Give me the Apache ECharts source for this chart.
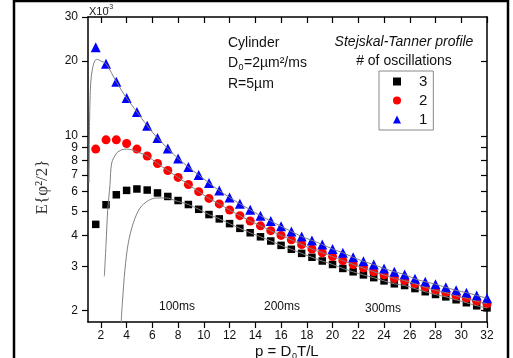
<!DOCTYPE html>
<html><head><meta charset="utf-8">
<script src="https://cdn.jsdelivr.net/npm/echarts@6/dist/echarts.min.js"></script>
<style>html,body{margin:0;padding:0;background:#fff}#c{width:513px;height:358px}</style>
</head><body><div id="c"></div>
<script>
// p = D0 T / L values of the measured points
const pValues = [1.6,2.4,3.2,4.0,4.8,5.6,6.4,7.2,8.0,8.8,9.6,10.4,11.2,12.0,12.8,13.6,14.4,15.2,16.0,16.8,17.6,18.4,19.2,20.0,20.8,21.6,22.4,23.2,24.0,24.8,25.6,26.4,27.2,28.0,28.8,29.6,30.4,31.2,32.0];
// E{phi^2/2} in units of 1e-3
const osc1 = [22.7,19.5,16.5,14.2,12.5,11.0,9.82,8.92,8.13,7.52,6.98,6.49,6.05,5.68,5.36,5.07,4.80,4.57,4.35,4.15,3.96,3.82,3.68,3.53,3.41,3.27,3.15,3.06,2.95,2.86,2.79,2.68,2.61,2.55,2.48,2.41,2.36,2.30,2.24];
const osc2 = [8.87,9.66,9.66,9.34,8.87,8.32,7.77,7.28,6.83,6.40,5.99,5.63,5.35,5.06,4.80,4.57,4.37,4.18,4.00,3.84,3.68,3.53,3.41,3.29,3.17,3.06,2.96,2.86,2.78,2.69,2.64,2.56,2.48,2.41,2.36,2.29,2.24,2.18,2.13];
const osc3 = [4.43,5.31,5.82,6.06,6.14,6.08,5.92,5.73,5.52,5.32,5.09,4.85,4.66,4.46,4.27,4.10,3.95,3.80,3.65,3.52,3.39,3.27,3.16,3.06,2.95,2.86,2.78,2.71,2.63,2.56,2.52,2.45,2.38,2.32,2.27,2.21,2.15,2.09,2.05];
const fit1HeadX = [1.08,1.12,1.16,1.21,1.33,1.52,1.72,1.99];
const fit1HeadY = [6.5,11.3,14.0,16.3,18.4,20.0,20.3,20.0];
const fit2HeadX = [2.27,2.40,2.53,2.71,2.84,3.23,3.62,4.01,4.40,4.78];
const fit2HeadY = [2.74,3.68,5.03,6.40,7.80,8.55,8.81,8.87,8.81,8.67];
const fit3HeadX = [3.55,3.67,3.87,4.13,4.52,5.04,5.69,6.34,7.12,7.76];
const fit3HeadY = [1.7,2.15,2.92,3.73,4.49,5.15,5.52,5.65,5.65,5.52];
const xTicks = [2,4,6,8,10,12,14,16,18,20,22,24,26,28,30,32];
const yTicks = [2,3,4,5,6,7,8,9,10,20,30];
const yTicksRight = [2,3,4,5,6,7,8,9,10,20];
const legendNames = ['3','2','1'];

const zip = (xs, ys) => xs.map((x, i) => [x, ys[i]]);
const fit1 = zip(fit1HeadX, fit1HeadY).concat(zip(pValues, osc1).slice(1));
const fit2 = zip(fit2HeadX, fit2HeadY).concat(zip(pValues, osc2).slice(5));
const fit3 = zip(fit3HeadX, fit3HeadY).concat(zip(pValues, osc3).slice(9));

const FONT = '"Liberation Sans", Arial, sans-serif';
const axisLine = {show: true, lineStyle: {color: '#000', width: 1.5}};
const chart = echarts.init(document.getElementById('c'), null, {renderer: 'canvas'});
const lineStyle = {color: '#808080', width: 1};
chart.setOption({
  animation: false,
  backgroundColor: '#fff',
  grid: {left: 88, right: 26, top: 17, bottom: 36},
  xAxis: [
    {type: 'value', min: 1, max: 32, position: 'bottom', axisLine,
     splitLine: {show: false},
     axisTick: {show: true, length: 6, inside: false, customValues: xTicks, lineStyle: {color: '#000', width: 1.2}},
     axisLabel: {customValues: xTicks, margin: 8, fontSize: 12, color: '#111', fontFamily: FONT}},
    {type: 'value', min: 1, max: 32, position: 'top', axisLine,
     splitLine: {show: false},
     axisTick: {show: true, length: 6, inside: true, customValues: xTicks, lineStyle: {color: '#000', width: 1.2}},
     axisLabel: {show: false}}
  ],
  yAxis: [
    {type: 'log', logBase: 10, min: 1.8, max: 30, position: 'left', axisLine,
     splitLine: {show: false}, minorTick: {show: false},
     axisTick: {show: true, length: 6, inside: false, customValues: yTicks, lineStyle: {color: '#000', width: 1.2}},
     axisLabel: {customValues: yTicks, margin: 10, fontSize: 12, color: '#111', fontFamily: FONT,
                 formatter: v => String(Math.round(v))}},
    {type: 'log', logBase: 10, min: 1.8, max: 30, position: 'right', axisLine,
     splitLine: {show: false}, minorTick: {show: false},
     axisTick: {show: true, length: 6, inside: true, customValues: yTicksRight, lineStyle: {color: '#000', width: 1.2}},
     axisLabel: {show: false}}
  ],
  legend: {
    data: legendNames, orient: 'vertical', left: 379, top: 71,
    padding: [3, 6, 3, 14], itemWidth: 8, itemHeight: 8, itemGap: 4,
    borderColor: '#888', borderWidth: 1, borderRadius: 0,
    itemStyle: {opacity: 1},
    textStyle: {fontSize: 15, lineHeight: 15, color: '#111', fontFamily: FONT, padding: [0, 0, 0, 13]},
    selectedMode: false
  },
  series: [
    {name: '3', type: 'scatter', symbol: 'rect', symbolSize: 7.5, itemStyle: {color: '#000', opacity: 1}, data: zip(pValues, osc3), z: 2},
    {name: '2', type: 'scatter', symbol: 'circle', symbolSize: 9, itemStyle: {color: '#ff0000', opacity: 1}, data: zip(pValues, osc2), z: 2},
    {name: '1', type: 'scatter', symbol: 'triangle', symbolSize: 10, itemStyle: {color: '#0000ff', opacity: 1}, data: zip(pValues, osc1), z: 2},
    {name: 'fit1', type: 'line', showSymbol: false, smooth: 0.3, lineStyle, data: fit1, z: 3, clip: true},
    {name: 'fit2', type: 'line', showSymbol: false, smooth: 0.3, lineStyle, data: fit2, z: 3, clip: true},
    {name: 'fit3', type: 'line', showSymbol: false, smooth: 0.3, lineStyle, data: fit3, z: 3, clip: true}
  ],
  graphic: [
    {type: 'rect', silent: true, shape: {x: 14, y: 1, width: 494, height: 420}, style: {fill: 'none', stroke: '#000', lineWidth: 2.5}},
    {type: 'text', x: 89, y: 6, style: {text: 'X10', font: '11px ' + FONT, fill: '#222'}},
    {type: 'text', x: 107, y: 4, style: {text: '-3', font: '7px ' + FONT, fill: '#222'}},
    {type: 'text', x: 43, y: 187, rotation: Math.PI / 2,
     style: {text: 'E{φ²/2}', font: '17px "Liberation Serif", serif', fill: '#333', align: 'center', verticalAlign: 'middle'}},
    {type: 'text', x: 228, y: 43, style: {text: 'Cylinder', font: '14px ' + FONT, fill: '#111', verticalAlign: 'middle'}},
    {type: 'text', x: 228, y: 63, style: {text: 'D', font: '14px ' + FONT, fill: '#111', verticalAlign: 'middle'}},
    {type: 'text', x: 238.5, y: 68, style: {text: '0', font: '9px ' + FONT, fill: '#111', verticalAlign: 'middle'}},
    {type: 'text', x: 244, y: 63, style: {text: '=2µm²/ms', font: '14px ' + FONT, fill: '#111', verticalAlign: 'middle'}},
    {type: 'text', x: 228, y: 84, style: {text: 'R=5µm', font: '14px ' + FONT, fill: '#111', verticalAlign: 'middle'}},
    {type: 'text', x: 404, y: 42, style: {text: 'Stejskal-Tanner profile', font: 'italic 14px ' + FONT, fill: '#111', align: 'center', verticalAlign: 'middle'}},
    {type: 'text', x: 404, y: 61, style: {text: '# of oscillations', font: '14px ' + FONT, fill: '#111', align: 'center', verticalAlign: 'middle'}},
    {type: 'text', x: 177, y: 307, style: {text: '100ms', font: '12px ' + FONT, fill: '#111', align: 'center', verticalAlign: 'middle'}},
    {type: 'text', x: 282, y: 307, style: {text: '200ms', font: '12px ' + FONT, fill: '#111', align: 'center', verticalAlign: 'middle'}},
    {type: 'text', x: 383, y: 309, style: {text: '300ms', font: '12px ' + FONT, fill: '#111', align: 'center', verticalAlign: 'middle'}},
    {type: 'text', x: 255, y: 344, style: {text: 'p = D', font: '15px ' + FONT, fill: '#111'}},
    {type: 'text', x: 292, y: 352, style: {text: '0', font: '9px ' + FONT, fill: '#111'}},
    {type: 'text', x: 297, y: 344, style: {text: 'T/L', font: '15px ' + FONT, fill: '#111'}}
  ]
});
</script></body></html>
